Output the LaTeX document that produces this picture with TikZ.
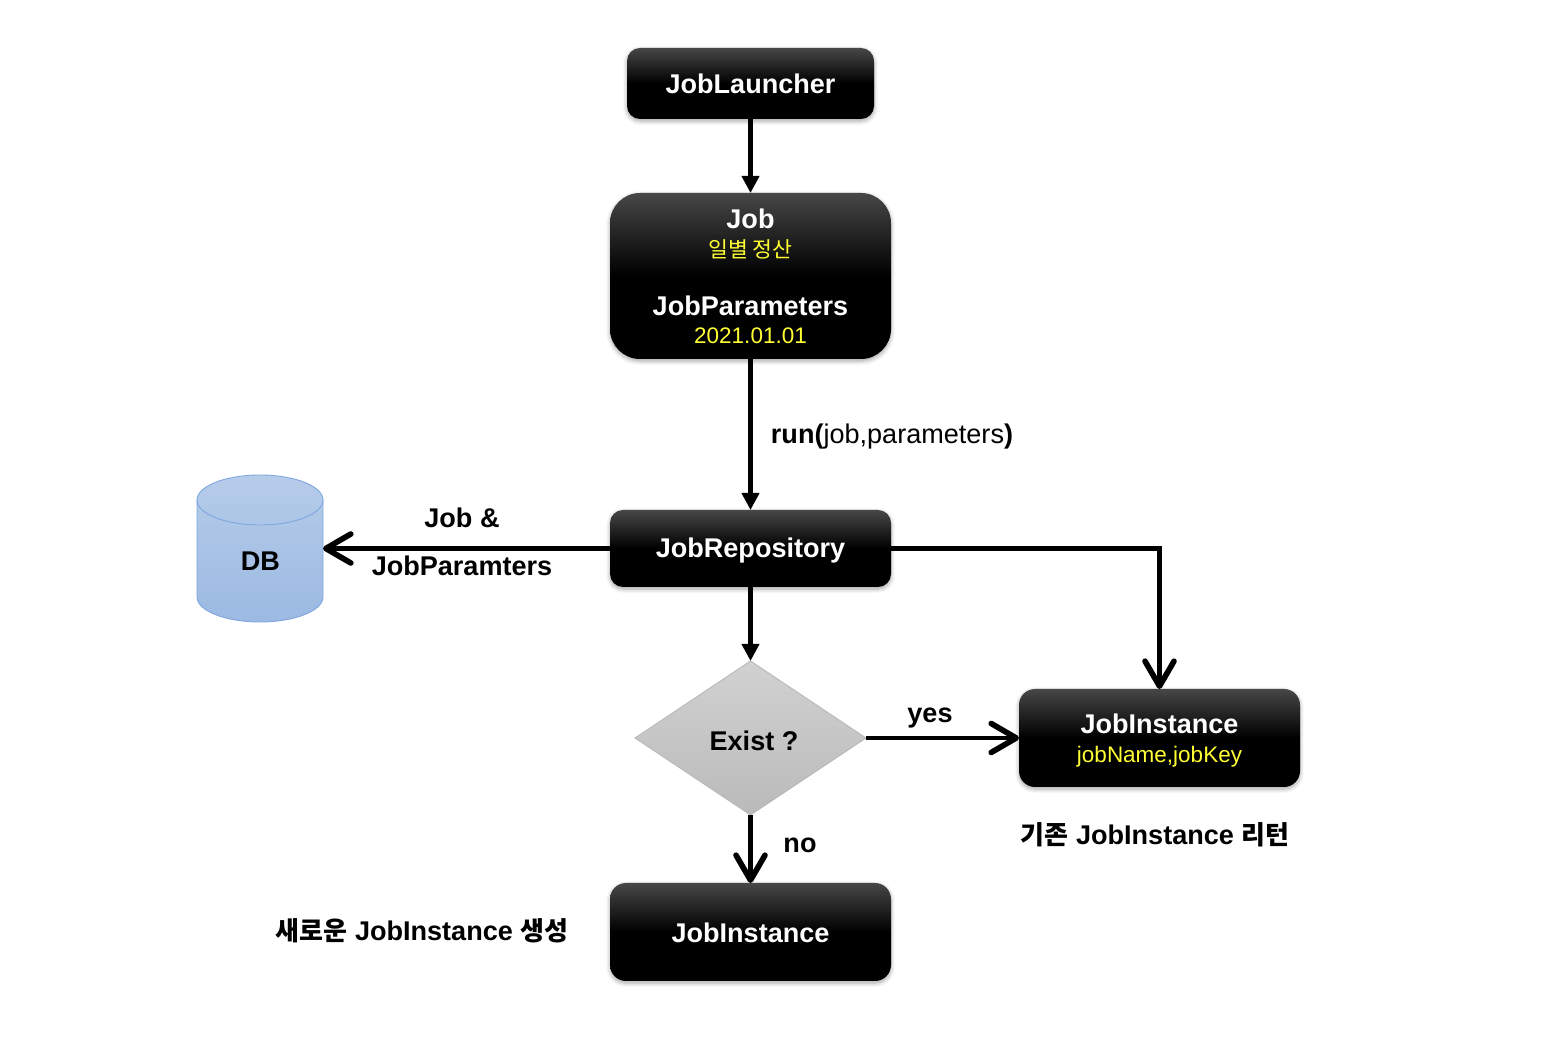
\documentclass[tikz,border=0pt]{standalone}
\usepackage{fontspec}
\setmainfont{Liberation Sans}
\newfontfamily\cjk[Scale=0.96]{Noto Sans CJK KR}
\usetikzlibrary{arrows.meta, positioning, shapes.geometric, shadows.blur}
\definecolor{cyellow}{HTML}{FFFF33}
\definecolor{ctop}{HTML}{474747}
\definecolor{cline}{HTML}{7EA6E0}
\definecolor{cdbtop}{HTML}{B6CCE9}
\definecolor{cdbbot}{HTML}{9BB9E2}
\pgfdeclareverticalshading{boxshade}{100bp}{color(0bp)=(black); color(50bp)=(black); color(75bp)=(ctop); color(100bp)=(ctop)}
\newcommand{\sub}[1]{{\fontsize{6.4}{8.3}\selectfont\mdseries\color{cyellow}#1}}
\tikzset{
  every picture/.style={line width=1.1pt},
  box/.style={shading=boxshade, rounded corners=#1, align=center, text=white, inner sep=0pt, outer sep=0pt,
    font=\fontsize{7.7}{8.3}\selectfont\bfseries, blur shadow={shadow xshift=0pt, shadow yshift=-0.6pt, shadow blur steps=6, shadow blur radius=1.2pt, shadow opacity=35}},
  box/.default=0.13cm,
  arrow/.style={-{Triangle[length=0.17cm, width=0.17cm]}, draw=black, line width=1.15pt},
  openarrow/.style={-{Straight Barb[length=0.25cm, width=0.29cm, round, line width=1.6pt]}, draw=black, line width=1.35pt},
  label/.style={font=\fontsize{7.7}{9}\selectfont\bfseries, inner sep=0pt},
  dbshape/.style={draw=cline, top color=cdbtop, bottom color=cdbbot, line width=0.25pt},
}
\begin{document}
\begin{tikzpicture}
  \useasboundingbox (0,0) rectangle (15.62,10.48);
  % boxes down the middle
  \node[box, minimum width=2.47cm, minimum height=0.71cm] (launcher) at (7.505,9.645) {JobLauncher};
  \node[box=0.3cm, minimum width=2.81cm, minimum height=1.66cm, text depth=0pt, below=0.74cm of launcher] (job) {Job\\\sub{\cjk 일별 정산}\\\mbox{}\\JobParameters\\[-0.5pt]\sub{2021.01.01}};
  \node[box, minimum width=2.81cm, minimum height=0.77cm, text height=5.4pt, text depth=0pt, below=1.51cm of job] (repo) {JobRepository};
  \node[diamond, draw=black!28, top color=black!18, bottom color=black!27, line width=0.25pt, inner sep=0pt, outer sep=0pt, minimum width=2.31cm, minimum height=1.54cm, below=0.74cm of repo] (exist) {};
  \node[box=0.16cm, minimum width=2.81cm, minimum height=0.98cm, text height=6.2pt, text depth=0pt, below=0.68cm of exist] (newinst) {JobInstance};
  \node[box=0.16cm, minimum width=2.81cm, minimum height=0.98cm, text depth=0pt, right=1.53cm of exist] (oldinst) {JobInstance\\\sub{jobName,jobKey}};
  % the database
  \node[inner sep=0pt, outer sep=0pt, minimum width=1.26cm, minimum height=1.47cm, left=2.87cm of repo] (db) {};
  \path[dbshape] ([yshift=-0.25cm]db.north west) arc[start angle=180, end angle=0, x radius=0.63cm, y radius=0.25cm]
    -- ([yshift=0.25cm]db.south east) arc[start angle=360, end angle=180, x radius=0.63cm, y radius=0.25cm] -- cycle;
  \draw[cline, line width=0.25pt] ([yshift=-0.25cm]db.north west) arc[start angle=180, end angle=360, x radius=0.63cm, y radius=0.25cm];
  % connectors
  \draw[arrow] (launcher) -- (job);
  \draw[arrow] (job) -- (repo);
  \draw[arrow] (repo) -- (exist);
  \draw[openarrow] (repo) -- (db);
  \draw[openarrow] (repo.east) -| (oldinst.north);
  \draw[openarrow] (exist) -- (oldinst);
  \draw[openarrow] (exist) -- (newinst);
  % labels
  \node[label] (dblabel) at (2.605,4.87) {DB};
  \node[label] (existlabel) at (7.54,3.07) {Exist ?};
  \node[label, anchor=west] (runlabel) at (7.69,6.11) {run({\mdseries job,parameters})};
  \node[label] (joblabel) at (4.62,5.3) {Job \&};
  \node[label] (paramlabel) at (4.62,4.82) {JobParamters};
  \node[label] (yeslabel) at (9.3,3.3) {yes};
  \node[label] (nolabel) at (8.0,2.03) {no};
  \node[label] (oldlabel) at (11.55,2.13) {{\cjk 기존} JobInstance {\cjk 리턴}};
  \node[label] (newlabel) at (4.22,1.17) {{\cjk 새로운} JobInstance {\cjk 생성}};
\end{tikzpicture}
\end{document}
